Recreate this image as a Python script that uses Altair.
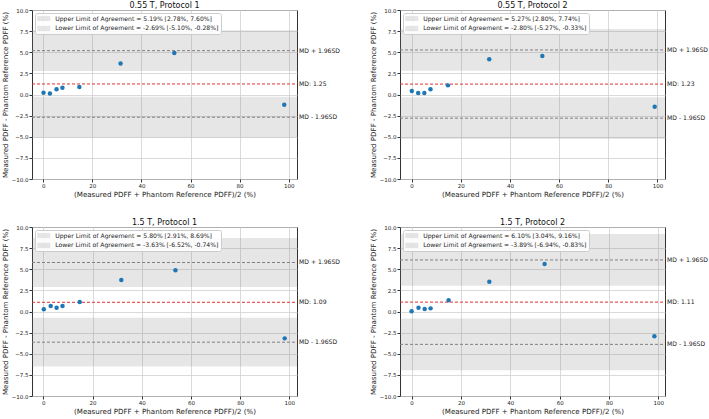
import altair as alt
import pandas as pd

# Bland-Altman agreement of measured vs phantom reference PDFF, four scanner/protocol settings
TITLES = ["0.55 T, Protocol 1", "0.55 T, Protocol 2", "1.5 T, Protocol 1", "1.5 T, Protocol 2"]

AVG = [
    [0.1, 2.7, 5.4, 7.8, 14.7, 31.5, 53.4, 98.2],
    [0.1, 2.7, 5.2, 7.7, 14.8, 31.6, 53.2, 98.9],
    [0.2, 3.0, 5.4, 7.8, 14.8, 31.7, 53.7, 98.1],
    [0.0, 2.8, 5.3, 7.7, 15.0, 31.5, 53.9, 98.4],
]
DIFF = [
    [0.20, 0.12, 0.63, 0.79, 0.90, 3.66, 4.92, -1.22],
    [0.41, 0.18, 0.18, 0.61, 1.08, 4.16, 4.55, -1.44],
    [0.26, 0.65, 0.45, 0.65, 1.12, 3.73, 4.87, -3.18],
    [0.02, 0.45, 0.30, 0.37, 1.32, 3.53, 5.62, -2.94],
]

MD = [1.25, 1.23, 1.09, 1.11]
UPPER = [5.19, 5.27, 5.80, 6.10]
UPPER_CI = [(2.78, 7.60), (2.80, 7.74), (2.91, 8.69), (3.04, 9.16)]
LOWER = [-2.69, -2.80, -3.63, -3.89]
LOWER_CI = [(-5.10, -0.28), (-5.27, -0.33), (-6.52, -0.74), (-6.94, -0.83)]

X_DOMAINS = [[-4.6, 103.4], [-4.7, 103.1], [-4.6, 103.1], [-4.7, 102.7]]
X_TICKS = [0, 20, 40, 60, 80, 100]
Y_TICKS = [-10, -7.5, -5, -2.5, 0, 2.5, 5, 7.5, 10]

X_TITLE = "(Measured PDFF + Phantom Reference PDFF)/2 (%)"
Y_TITLE = "Measured PDFF - Phantom Reference PDFF (%)"

W, H = 265, 169
FONT = "DejaVu Sans"
TEXT = "#222222"


def panel(i):
    xenc = alt.X(
        "avg:Q",
        scale=alt.Scale(domain=X_DOMAINS[i], nice=False, zero=False),
        axis=alt.Axis(values=X_TICKS, title=X_TITLE, format="d"),
    )

    def yenc(field):
        return alt.Y(
            f"{field}:Q",
            scale=alt.Scale(domain=[-10, 10], nice=False, zero=False),
            axis=alt.Axis(values=Y_TICKS, format=".1f", title=Y_TITLE),
        )

    up_label = f"Upper Limit of Agreement = {UPPER[i]:.2f}% [{UPPER_CI[i][0]:.2f}%, {UPPER_CI[i][1]:.2f}%]"
    lo_label = f"Lower Limit of Agreement = {LOWER[i]:.2f}% [{LOWER_CI[i][0]:.2f}%, {LOWER_CI[i][1]:.2f}%]"

    bands = pd.DataFrame({
        "label": [up_label, lo_label],
        "v": [UPPER_CI[i][0], LOWER_CI[i][0]],
        "v2": [UPPER_CI[i][1], LOWER_CI[i][1]],
    })
    limits = pd.DataFrame({"v": [UPPER[i], LOWER[i]]})
    mean = pd.DataFrame({"v": [MD[i]]})
    notes = pd.DataFrame({
        "v": [UPPER[i], MD[i], LOWER[i]],
        "t": ["MD + 1.96SD", f"MD: {MD[i]:.2f}", "MD - 1.96SD"],
    })
    pts = pd.DataFrame({"avg": AVG[i], "v": DIFF[i]})

    band_layer = alt.Chart(bands).mark_rect(opacity=0.2).encode(
        y=yenc("v"),
        y2="v2:Q",
        x=alt.value(0),
        x2=alt.value(W),
        color=alt.Color(
            "label:N",
            scale=alt.Scale(domain=[up_label, lo_label], range=["#808080", "#808080"]),
            legend=alt.Legend(
                title=None,
                orient="top-left",
                offset=2.5,
                fillColor="#ffffffdd",
                strokeColor="#cccccc",
                cornerRadius=2,
                padding=2,
                labelFontSize=6.1,
                labelFont=FONT,
                labelColor=TEXT,
                labelLimit=400,
                labelOffset=8,
                rowPadding=2.9,
                symbolType="M-2,-0.8H2V0.8H-2Z",
                symbolSize=42,
                symbolOffset=3.25,
                symbolStrokeWidth=0,
                symbolOpacity=0.2,
            ),
        ),
    )

    limit_layer = alt.Chart(limits).mark_rule(
        color="#808080", strokeDash=[3, 2], strokeWidth=1
    ).encode(y=yenc("v"), x=alt.value(0), x2=alt.value(W))

    mean_layer = alt.Chart(mean).mark_rule(
        color="#e03030", strokeDash=[3, 2], strokeWidth=1
    ).encode(y=yenc("v"), x=alt.value(0), x2=alt.value(W))

    note_layer = alt.Chart(notes).mark_text(
        align="left", baseline="middle", fontSize=6.1, font=FONT, color=TEXT
    ).encode(y=yenc("v"), x=alt.value(W + 2), text="t:N")

    point_layer = alt.Chart(pts).mark_circle(size=20, color="#1f77b4", opacity=1).encode(
        x=xenc, y=yenc("v")
    )

    return alt.layer(
        band_layer, limit_layer, mean_layer, point_layer, note_layer
    ).properties(
        width=W,
        height=H,
        title=alt.TitleParams(
            TITLES[i], fontSize=8, fontWeight="normal", font=FONT,
            offset=-2, color="#111111",
        ),
    )


def row(a, b):
    return (
        alt.hconcat(panel(a), panel(b), spacing=27)
        .resolve_scale(color="independent", x="independent", y="independent")
        .resolve_legend(color="independent")
    )


chart = (
    alt.vconcat(row(0, 1), row(2, 3), spacing=20)
    .resolve_scale(color="independent", x="independent", y="independent")
    .resolve_legend(color="independent")
    .properties(padding={"left": 0, "top": 1, "right": 0, "bottom": 0})
    .configure(background="white")
    .configure_view(stroke="#333333", strokeWidth=1)
    .configure_axis(
        grid=True,
        gridColor="#d0d0d0",
        gridWidth=0.8,
        domain=False,
        tickColor="#333333",
        tickSize=3,
        labelFont=FONT,
        labelFontSize=5.5,
        labelColor=TEXT,
        labelPadding=1,
        titleFont=FONT,
        titleFontSize=7.1,
        titleFontWeight="normal",
        titleColor=TEXT,
    )
    .configure_axisX(titlePadding=1.5)
    .configure_axisY(titlePadding=3)
)

chart.save("out.html", embed_options={"renderer": "svg", "actions": False})
